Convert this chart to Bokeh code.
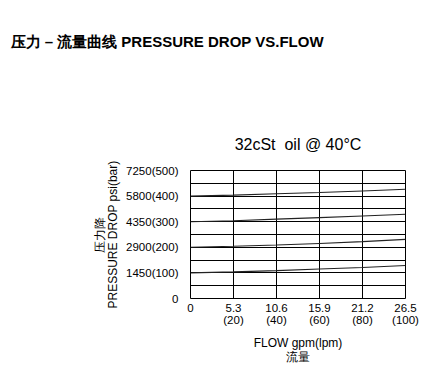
from bokeh.plotting import figure
from bokeh.models import FixedTicker, Title, Range1d
from bokeh.embed import file_html
from bokeh.resources import INLINE

# ---- data ----
flow_lpm = [0, 20, 40, 60, 80, 100]
x_tick_labels = ["0", "5.3\n(20)", "10.6\n(40)", "15.9\n(60)", "21.2\n(80)", "26.5\n(100)"]
y_ticks_bar = [0, 100, 200, 300, 400, 500]
y_tick_labels = ["0", "1450(100)", "2900(200)", "4350(300)", "5800(400)", "7250(500)"]
curve_100 = [100, 104, 109, 115, 121, 129]
curve_200 = [200, 204, 209, 215, 222, 231]
curve_300 = [300, 304, 310, 316, 322, 329]
curve_400 = [400, 404, 409, 414, 420, 427]

FONT = "Liberation Sans"

p = figure(width=436, height=377, output_backend="svg", toolbar_location=None,
           x_range=Range1d(0, 100), y_range=Range1d(0, 500),
           min_border_left=190, min_border_right=31, min_border_top=170, min_border_bottom=79)
p.background_fill_color = "white"
p.border_fill_color = "white"
p.outline_line_color = "black"
p.outline_line_width = 1

for c in (curve_100, curve_200, curve_300, curve_400):
    p.line(flow_lpm, c, line_color="#222222", line_width=1.1)

# axes
p.xaxis.ticker = FixedTicker(ticks=flow_lpm)
p.xaxis.major_label_overrides = {t: l for t, l in zip(flow_lpm, x_tick_labels)}
p.yaxis.ticker = FixedTicker(ticks=y_ticks_bar, minor_ticks=[50, 150, 250, 350, 450])
p.yaxis.major_label_overrides = {t: l for t, l in zip(y_ticks_bar, y_tick_labels)}
for ax in (p.xaxis, p.yaxis):
    ax.axis_line_color = None
    ax.major_tick_line_color = None
    ax.minor_tick_line_color = None
    ax.major_label_text_font = FONT
    ax.major_label_text_font_size = "11.5px"
    ax.major_label_text_color = "black"
    ax.major_label_text_line_height = 1.0
    ax.axis_label_text_font = FONT
    ax.axis_label_text_font_size = "12px"
    ax.axis_label_text_font_style = "normal"
    ax.axis_label_text_color = "black"
p.xaxis.axis_label_text_line_height = 1.05
p.yaxis.axis_label_text_line_height = 0.9
p.xaxis.major_label_standoff = -3
p.yaxis.major_label_standoff = 6
p.xaxis.axis_label = "FLOW gpm(lpm)\n流量"
p.yaxis.axis_label = "压力降\nPRESSURE DROP psi(bar)"
p.xaxis.axis_label_standoff = 7
p.yaxis.axis_label_standoff = 3

# grids
p.xgrid.grid_line_color = "black"
p.xgrid.grid_line_width = 1
p.ygrid.grid_line_color = "black"
p.ygrid.grid_line_width = 1
p.ygrid.minor_grid_line_color = "black"
p.ygrid.minor_grid_line_width = 1

# titles (trailing empty lines keep the main title near the top of its box)
p.title.text = "压力 – 流量曲线 PRESSURE DROP VS.FLOW" + "\n" * 3
p.title.text_font = FONT
p.title.text_font_size = "15px"
p.title.text_font_style = "bold"
p.title.text_color = "black"
p.title.text_line_height = 1.2
p.title.align = "left"
p.title.offset = -180
p.title.standoff = 10

sub = Title(text="32cSt\u00a0 oil @ 40°C", text_font=FONT, text_font_size="16px",
            text_font_style="normal", text_color="black", align="center",
            offset=26, standoff=35)
p.add_layout(sub, "above")

open("out.html", "w").write(file_html(p, INLINE))
